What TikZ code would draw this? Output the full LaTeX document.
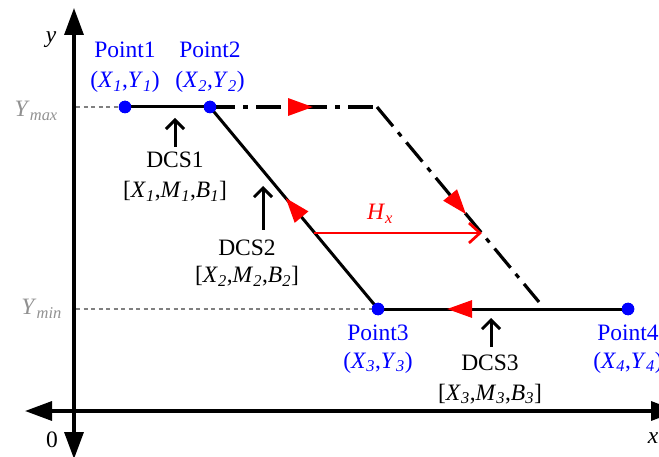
\documentclass[tikz,border=0pt]{standalone}
\usepackage{fontspec}
\setmainfont{Liberation Serif}
\usetikzlibrary{arrows.meta,decorations.markings}
\definecolor{guidegray}{RGB}{128,128,128}
\definecolor{lblgray}{RGB}{145,145,145}
\definecolor{ptblue}{RGB}{0,0,255}
\definecolor{arrred}{RGB}{255,0,0}
\newcommand\mysub[2]{\textit{#1}\textsubscript{\textit{#2}}}
\begin{document}
\begin{tikzpicture}[x=1pt,y=-1pt,
  every node/.style={font=\fontsize{23.5}{27}\selectfont, inner sep=0pt},
  axis/.style={line width=3.3pt, {Triangle[length=27pt,width=19pt]}-{Triangle[length=27pt,width=19pt]}},
  mainline/.style={line width=3pt, black},
  dashdot/.style={line width=3.2pt, black, dash pattern=on 25pt off 8pt on 5pt off 8pt},
  guide/.style={line width=2.7pt, guidegray, dash pattern=on 4pt off 3.5pt},
  pt/.style={circle, fill=ptblue, minimum size=12.5pt, inner sep=0pt},
  plabel/.style={text=ptblue, anchor=base},
  dlabel/.style={text=black, anchor=base},
  glabel/.style={text=lblgray, anchor=base east},
  dcsarrow/.style={line width=3pt, -{Straight Barb[length=9pt,width=18pt]}},
  hxarrow/.style={line width=2.7pt, arrred, -{Straight Barb[length=11pt,width=20pt]}},
  redmark/.style={postaction={decorate, decoration={markings,
     mark=at position #1 with {\arrow[arrred]{Triangle[length=25pt,width=17pt]}}}}}
]
\useasboundingbox (0,0) rectangle (659,457);

% axes
\coordinate (yt) at (74,8);
\coordinate (yb) at (74,459);
\coordinate (xl) at (25,411);
\coordinate (xr) at (678,411);
\draw[axis] (yb) -- (yt);
\draw[axis] (xl) -- (xr);
\node[anchor=base] (ylab) at (51,43) {\textit{y}};
\node[anchor=base] (zero) at (52,447) {0};
\node[anchor=base] (xlab) at (653,443) {\textit{x}};

% points
\node[pt] (p1) at (125,107) {};
\node[pt] (p2) at (210,107) {};
\node[pt] (p3) at (378,309) {};
\node[pt] (p4) at (628,309) {};

% guides
\coordinate (gmax) at (76,107);
\coordinate (gmin) at (76,309);
\draw[guide] (gmax) -- (p1.center);
\draw[guide] (gmin) -- (p3.center);
\node[glabel] (ymax) at (58,117) {\textit{Y}\textsubscript{\textit{max}}};
\node[glabel] (ymin) at (62,315) {\textit{Y}\textsubscript{\textit{min}}};

% shifted dash-dot curve
\coordinate (c1) at (377,107);
\coordinate (c2) at (539,302);
\draw[dashdot, redmark=0.617] (p2.center) -- (c1);
\draw[dashdot, redmark=0.55] (c1) -- (c2);

% main curve
\draw[mainline] (p1.center) -- (p2.center);
\draw[mainline, redmark=0.55] (p3.center) -- (p2.center);
\draw[mainline, redmark=0.724] (p4.center) -- (p3.center);
\node[pt] at (p1) {};
\node[pt] at (p2) {};
\node[pt] at (p3) {};
\node[pt] at (p4) {};

% Hx
\coordinate (h1) at (314,233);
\coordinate (h2) at (482,233);
\draw[hxarrow] (h1) -- (h2);
\node[anchor=base, text=arrred] (hx) at (380,220) {\mysub{H}{x}};

% point labels
\node[plabel] (l1a) at (125,58) {Point1};
\node[plabel] (l1b) at (125,88) {(\mysub{X}{1},\mysub{Y}{1})};
\node[plabel] (l2a) at (210,58) {Point2};
\node[plabel] (l2b) at (210,88) {(\mysub{X}{2},\mysub{Y}{2})};
\node[plabel] (l3a) at (378,340) {Point3};
\node[plabel] (l3b) at (378,368) {(\mysub{X}{3},\mysub{Y}{3})};
\node[plabel] (l4a) at (628,340) {Point4};
\node[plabel] (l4b) at (628,368) {(\mysub{X}{4},\mysub{Y}{4})};

% DCS labels
\node[dlabel] (d1a) at (175,168) {DCS1};
\node[dlabel] (d1b) at (175,198) {[\mysub{X}{1},\mysub{M}{1},\mysub{B}{1}]};
\node[dlabel] (d2a) at (247,256) {DCS2};
\node[dlabel] (d2b) at (247,283) {[\mysub{X}{2},\mysub{M}{2},\mysub{B}{2}]};
\node[dlabel] (d3a) at (490,370) {DCS3};
\node[dlabel] (d3b) at (490,400) {[\mysub{X}{3},\mysub{M}{3},\mysub{B}{3}]};

\coordinate (a1s) at (175,147); \coordinate (a1e) at (175,118);
\coordinate (a2s) at (263,230); \coordinate (a2e) at (263,186);
\coordinate (a3s) at (491,347); \coordinate (a3e) at (491,318);
\draw[dcsarrow] (a1s) -- (a1e);
\draw[dcsarrow] (a2s) -- (a2e);
\draw[dcsarrow] (a3s) -- (a3e);
\end{tikzpicture}
\end{document}
